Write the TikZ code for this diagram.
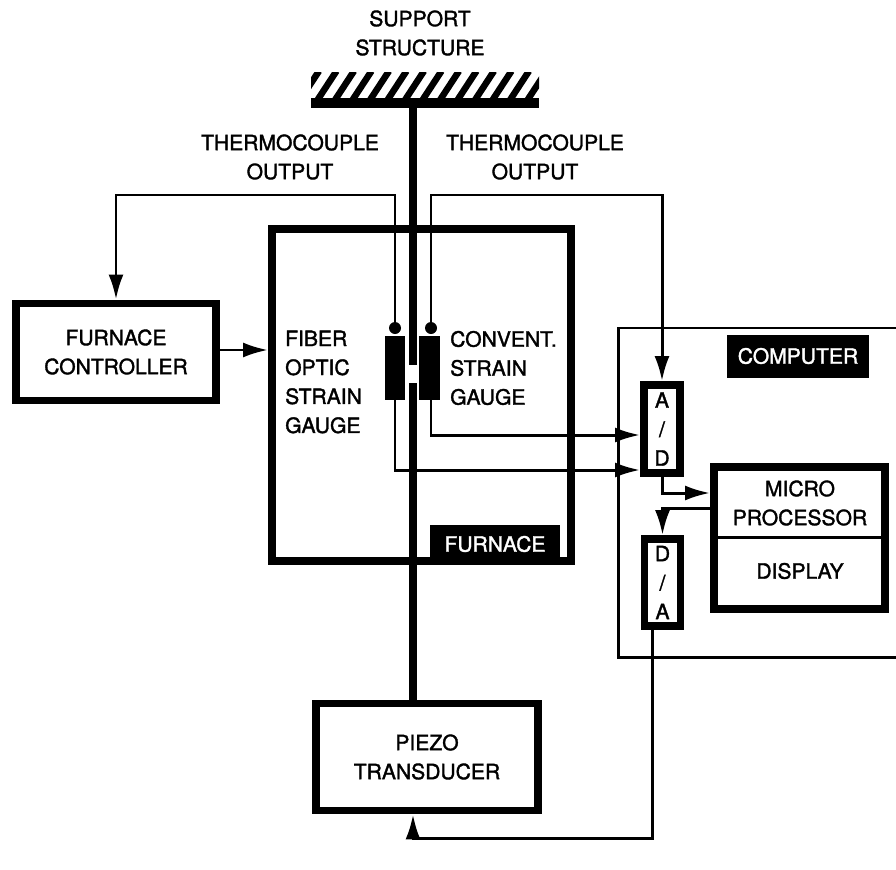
\documentclass[tikz,border=0pt]{standalone}
\usepackage{fontspec}
\setmainfont{TeX Gyre Heros}[BoldFont={TeX Gyre Heros}, BoldFeatures={FakeBold=1.6}]
\usetikzlibrary{arrows.meta}
\tikzset{
  heavybox/.style={draw, line width=4.5pt, align=center, inner sep=0pt},
  tagbox/.style={fill=black, text=white, inner sep=0pt},
  gaugebar/.style={fill=black, inner sep=0pt, minimum height=1.28cm},
  wire/.style={line width=1.7pt},
  sig/.style={wire, -{Latex[length=5mm,width=3mm]}},
  rod/.style={line width=4.5pt},
}
\begin{document}
\begin{tikzpicture}[x=0.02cm, y=-0.02cm, font=\fontsize{12pt}{16.5pt}\selectfont\bfseries]
        \useasboundingbox (0,0) rectangle (896,869);

        % support structure
        \node[align=center] (supp) at (420,33) {SUPPORT\\STRUCTURE};
        \begin{scope}
          \clip (311,72) rectangle (539,99);
          \foreach \i in {0,...,13}
            \draw[line width=3.7pt] (300+\i*17.5,100) -- (319+\i*17.5,71);
        \end{scope}
        \node[fill=black, inner sep=0pt, minimum width=4.56cm, minimum height=0.2cm] (bar) at (425,103) {};

        % boxes
        \node[heavybox, minimum width=4cm, minimum height=1.94cm] (ctrl) at (116,352) {FURNACE\\CONTROLLER};
        \node[heavybox, minimum width=5.98cm, minimum height=6.64cm] (furn) at (421.5,395) {};
        \node[heavybox, minimum width=4.44cm, minimum height=2.14cm] (piezo) at (427,757) {PIEZO\\TRANSDUCER};
        \node[tagbox, minimum width=2.6cm, minimum height=0.76cm] (furntag) at (495,544) {FURNACE};

        \node[anchor=west, align=left] (fosg) at (279,382) {FIBER\\OPTIC\\STRAIN\\GAUGE};
        \node[anchor=west, align=left] (csg) at (444,368) {CONVENT.\\STRAIN\\GAUGE};
        \node[align=center] (tcL) at (290,157) {THERMOCOUPLE\\OUTPUT};
        \node[align=center] (tcR) at (535,157) {THERMOCOUPLE\\OUTPUT};

        % computer
        \draw[wire] (900,328) -| (618,657) -- (900,657);
        \node[tagbox, minimum width=2.84cm, minimum height=0.86cm] (comptag) at (798,356) {COMPUTER};
        \node[heavybox, minimum width=0.72cm, minimum height=1.76cm] (ad) at (662,429) {A\\/\\D};
        \node[heavybox, minimum width=0.72cm, minimum height=1.74cm] (da) at (662.5,582.5) {D\\/\\A};
        \node[heavybox, minimum width=3.42cm, minimum height=2.84cm] (micro) at (799.5,538) {};
        \node[align=center] (mp) at (800,503) {MICRO\\PROCESSOR};
        \node (disp) at (800,571) {DISPLAY};
        \coordinate (split) at (0,537);
        \draw[wire] (split -| micro.west) -- (split -| micro.east);

        % gauges and rod
        \coordinate (rodtop) at (413,108);
        \coordinate (rodlow) at (413,383);
        \draw[rod] (rodtop) -- (413,365);
        \draw[rod] (rodlow) -- (rodlow |- piezo.north);
        \node[gaugebar, minimum width=0.4cm] (gL) at (395,368) {};
        \node[gaugebar, minimum width=0.42cm] (gR) at (429.5,368) {};
        \coordinate (knobL) at (395,328);
        \coordinate (knobR) at (431,328);
        \fill (knobL) circle [radius=0.12cm];
        \fill (knobR) circle [radius=0.12cm];

        % connectors
        \coordinate (tcbus) at (0,195);
        \draw[sig] (knobL) -- (knobL |- tcbus) -| (ctrl.north);
        \draw[sig] (knobR) -- (knobR |- tcbus) -| (ad.north);
        \coordinate (feed) at (0,350);
        \draw[sig] (feed -| ctrl.east) -- (feed -| furn.west);
        \coordinate (busR) at (0,435);
        \coordinate (busL) at (0,470);
        \draw[sig] (gR.south -| knobR) |- (busR -| ad.west);
        \draw[sig] (gL.south) |- (busL -| ad.west);
        \coordinate (adbend) at (0,493);
        \coordinate (dabend) at (0,508);
        \draw[sig] (ad.south) |- (adbend -| micro.west);
        \draw[sig] (dabend -| micro.west) -| (da.north);
        \coordinate (daout) at (652,626);
        \coordinate (loop) at (413,838);
        \draw[sig] (daout) |- (loop) -- (loop |- piezo.south);
      \end{tikzpicture}
\end{document}
